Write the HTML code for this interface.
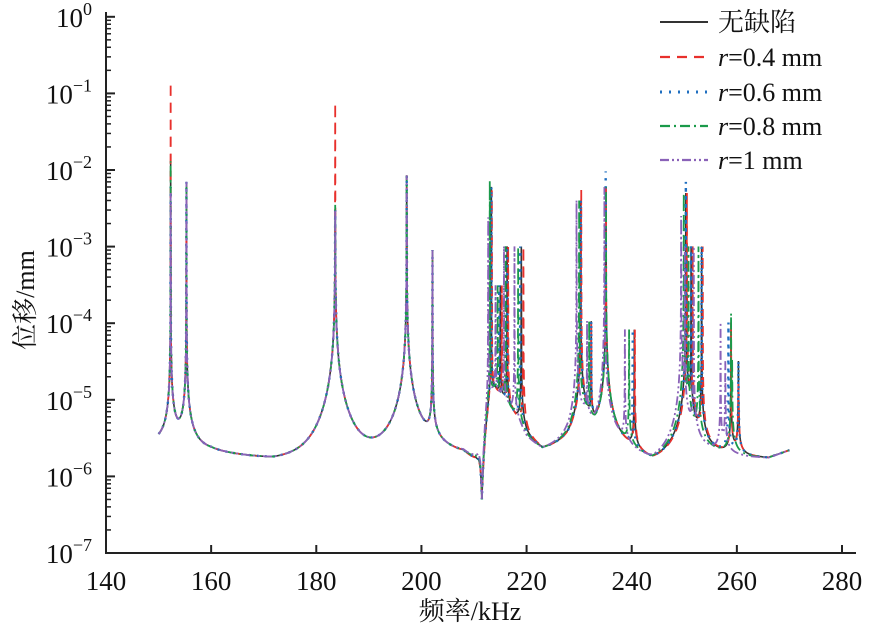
<!DOCTYPE html>
<html><head><meta charset="utf-8"><style>
html,body{margin:0;padding:0;background:#fff;}
svg{display:block;font-family:"Liberation Serif","Noto Serif CJK SC",serif;}
</style></head><body>
<svg id="s" width="875" height="636" viewBox="0 0 875 636" xmlns="http://www.w3.org/2000/svg">
<g id="curves" fill="none" stroke-width="1.8"></g>
<g id="axes" stroke="#222" stroke-width="2" fill="none"></g>
<g id="labels" fill="#111" font-size="27"></g>
<text x="470" y="620" font-size="26" text-anchor="middle" fill="#111">频率/kHz</text>
<text transform="translate(34,300) rotate(-90)" font-size="26" text-anchor="middle" fill="#111">位移/mm</text>
<g font-size="26" fill="#111">
<line x1="660" y1="22" x2="708" y2="22" stroke="#333" stroke-width="2"/>
<text x="718" y="31">无缺陷</text>
<line x1="660" y1="57" x2="708" y2="57" stroke="#e8302c" stroke-width="2.2" stroke-dasharray="10,7"/>
<text x="718" y="66"><tspan font-style="italic">r</tspan>=0.4 mm</text>
<line x1="660" y1="92" x2="708" y2="92" stroke="#1f6fc0" stroke-width="3" stroke-dasharray="2,7"/>
<text x="718" y="101"><tspan font-style="italic">r</tspan>=0.6 mm</text>
<line x1="660" y1="126" x2="708" y2="126" stroke="#1a9a4a" stroke-width="2.2" stroke-dasharray="10,4,2,4"/>
<text x="718" y="135"><tspan font-style="italic">r</tspan>=0.8 mm</text>
<line x1="660" y1="160" x2="708" y2="160" stroke="#8a62b8" stroke-width="2.2" stroke-dasharray="9,3,2,3,2,3"/>
<text x="718" y="169"><tspan font-style="italic">r</tspan>=1 mm</text>
</g>
</svg>
<script>
const X=f=>106+(f-140)*(736/140);
const Y=v=>553-(Math.log10(v)+7)*76.6;
const ax=document.getElementById('axes'),lb=document.getElementById('labels'),cv=document.getElementById('curves');
let a='<path d="M106,12 V553 H856"/>';
for(let f=140;f<=280;f+=20){const x=X(f);a+=`<line x1="${x}" y1="553" x2="${x}" y2="545"/>`;
lb.innerHTML+=`<text x="${x}" y="590" text-anchor="middle">${f}</text>`;}
for(let e=-7;e<=0;e++){const y=Y(Math.pow(10,e));a+=`<line x1="106" y1="${y}" x2="115" y2="${y}"/>`;
lb.innerHTML+=`<text x="92" y="${y+10}" text-anchor="end">10<tspan dy="-12" font-size="18">${e==0?'0':'−'+(-e)}</tspan></text>`;
if(e<0)for(let k=2;k<10;k++){const yy=Y(k*Math.pow(10,e));a+=`<line x1="106" y1="${yy}" x2="111" y2="${yy}" stroke-width="1.5"/>`;}}
ax.innerHTML=a;
const baseK=[[150,2.4e-6],[153.7,2e-6],[160,2.1e-6],[172,1.7e-6],[180,1.8e-6],[190,2e-6],[200,2.4e-6],[203,2.4e-6],[208,2e-6],[210.3,1.4e-6],[211.2,1e-6],[211.5,5e-7],[211.8,1e-6],[212.3,3e-6],[213,1e-5],[214,1.2e-5],[218,5e-6],[220,3e-6],[223,2.2e-6],[228,2.8e-6],[231,5e-6],[233,3e-6],[238,2.4e-6],[244,1.6e-6],[248,2e-6],[255,2e-6],[262,1.8e-6],[266,1.75e-6],[270,2.2e-6]];
function base(f){for(let i=1;i<baseK.length;i++){if(f<=baseK[i][0]){const [f0,v0]=baseK[i-1],[f1,v1]=baseK[i];const t=(f-f0)/(f1-f0);return Math.pow(10,Math.log10(v0)*(1-t)+Math.log10(v1)*t);}}return 2.2e-6;}
function series(h1,h2,sh,extra){
 const p=[[152.3,h1,4e-6,4],[155.3,7e-3,4e-6,4],[183.6,h2,2.5e-5,4],[197.2,8.5e-3,2e-5,4],[202.1,9e-4,1.5e-6,2]];
 const up=[[213.3,6e-3,2e-6],[215,3e-4,1e-6],[216.3,1e-3,1.5e-6],[219,1e-3,1.5e-6],[230.3,4e-3,6e-6],[232.3,1e-4,5e-7],[235.1,6e-3,1e-5],[240.5,8e-5,5e-7],[250.3,5e-3,7e-6],[251.3,1e-3,1.5e-6],[253.3,1e-3,1.5e-6],[258.9,1e-4,5e-7],[260.3,3e-5,4e-7]];
 up.forEach((q,i)=>p.push([q[0]+sh[i%sh.length],q[1]*(extra[i]||1),q[2],3]));
 return p;}
function val(p,f){let v=base(f);const dip=Math.abs(f-211.5)<0.6;for(const q of p){const d=f-q[0],w=q[2]/q[1];let c=q[2]/Math.sqrt(d*d+w*w)*Math.exp(-Math.abs(d)/q[3]);if(dip)c*=Math.abs(f-211.5)/0.6;v+=c;}return v;}
const S=[
 ['#333','',series(1.3e-2,3e-3,[0],{}),1.6],
 ['#e8302c','10,7',series(0.14,0.075,[0.1,0.3,0.2,0.4,0.1,0,0,0.1,0.2,0.3,0.2,0,0],{0:0.9,4:1.4,12:0.5}),1.8],
 ['#1f6fc0','2,6',series(6e-3,3e-3,[0,-0.2,0,-0.2,0,0,-0.05,-0.3,0,0,0,-0.5,0],{6:1.6,8:1.4}),2.4],
 ['#1a9a4a','10,4,2,4',series(1.3e-2,3.5e-3,[-0.3,-0.5,-0.3,-0.6,-0.3,-0.4,0,-1,-0.4,-0.5,-0.6,0,-1.2],{0:1.2,11:1.3}),1.8],
 ['#8a62b8','9,3,2,3,2,3',series(5e-3,3e-3,[-0.6,-0.9,-0.6,-1.3,-0.8,-0.8,-0.3,-1.8,-0.9,-1.2,-1.5,-2,-2.5],{0:0.4,8:0.5}),1.8]];
let h='';
for(const s of S){let fs=[211.5];for(let f=150;f<=270.001;f+=0.05)fs.push(f);s[2].forEach(q=>fs.push(q[0]));fs.sort((a,b)=>a-b);
let d='';for(const f of fs){const v=val(s[2],f);d+=(d?'L':'M')+X(f).toFixed(2)+','+Math.max(Y(v),12).toFixed(2);}
h+=`<path d="${d}" stroke="${s[0]}" stroke-width="${s[3]}" ${s[1]?'stroke-dasharray="'+s[1]+'"':''}/>`;}
cv.innerHTML=h;
</script>
</body></html>
